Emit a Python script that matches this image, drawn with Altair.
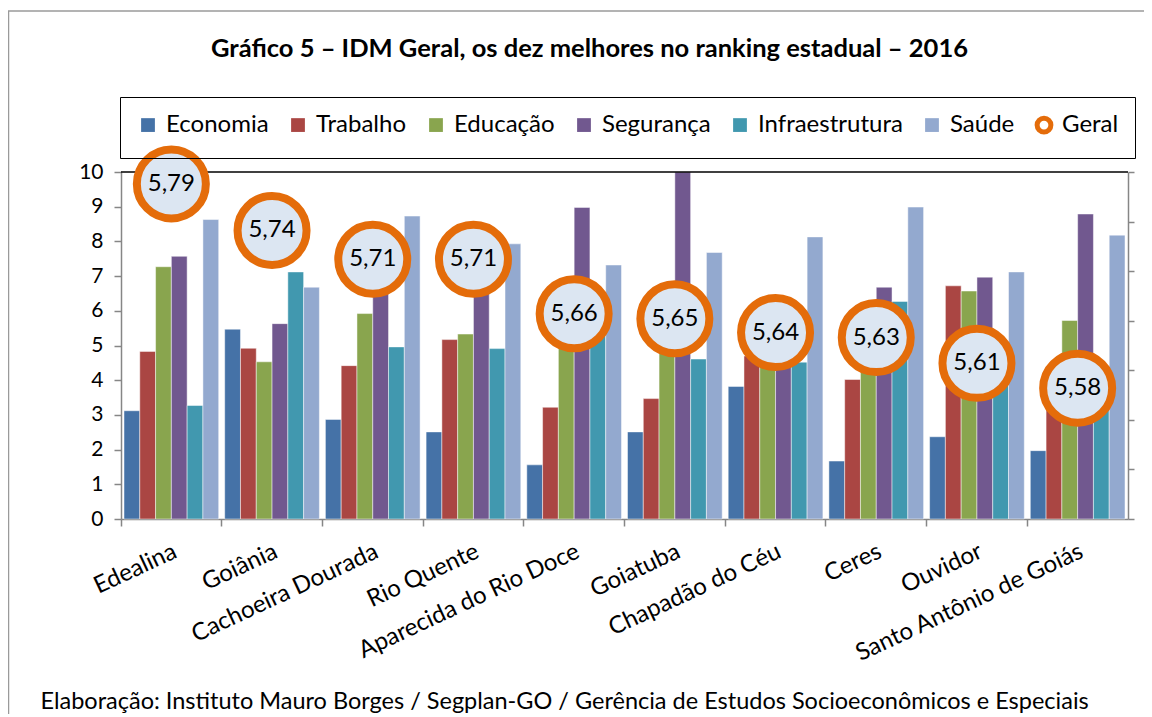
import altair as alt
import pandas as pd

cities = ["Edealina", "Goiânia", "Cachoeira Dourada", "Rio Quente", "Aparecida do Rio Doce",
          "Goiatuba", "Chapadão do Céu", "Ceres", "Ouvidor", "Santo Antônio de Goiás"]
series = ["Economia", "Trabalho", "Educação", "Segurança", "Infraestrutura", "Saúde"]

economia = [3.12, 5.47, 2.87, 2.51, 1.56, 2.51, 3.82, 1.67, 2.37, 1.97]
trabalho = [4.83, 4.92, 4.42, 5.17, 3.22, 3.47, 4.70, 4.02, 6.72, 3.55]
educacao = [7.27, 4.53, 5.92, 5.33, 5.00, 5.10, 4.90, 4.60, 6.57, 5.72]
seguranca = [7.57, 5.63, 7.30, 6.90, 8.98, 10.00, 4.60, 6.68, 6.97, 8.79]
infraestrutura = [3.27, 7.12, 4.96, 4.91, 5.40, 4.61, 4.52, 6.27, 4.30, 3.40]
saude = [8.63, 6.68, 8.73, 7.93, 7.32, 7.68, 8.13, 8.99, 7.12, 8.18]
geral = [5.788, 5.741, 5.712, 5.712, 5.657, 5.652, 5.638, 5.633, 5.607, 5.582]

colors = ["#4572A7", "#AA4643", "#89A54E", "#71588F", "#4198AF", "#93A9CF"]
orange = "#E46C0A"
ring_fill = "#DCE6F2"
axis_gray = "#868686"
FONT = "Lato"

rows = []
for s, vals in zip(series, [economia, trabalho, educacao, seguranca, infraestrutura, saude]):
    for c, v in zip(cities, vals):
        rows.append({"cidade": c, "serie": s, "valor": v})
bars_df = pd.DataFrame(rows)
geral_df = pd.DataFrame({
    "cidade": cities,
    "geral": geral,
    "serie": ["Geral"] * len(cities),
    "rotulo": [f"{v:.2f}".replace(".", ",") for v in geral],
})
one = pd.DataFrame({"a": [0]})

legend_domain = series + ["Geral"]
legend = alt.Legend(
    title=None, orient="none", legendX=-1, legendY=-75, direction="horizontal",
    columns=7, labelFont=FONT, labelFontSize=24, labelColor="black", symbolSize=190,
    symbolStrokeWidth=5, columnPadding=12, padding=16, strokeColor="black",
    labelLimit=300, labelOffset=6,
)

x_scale = alt.Scale(domain=cities, paddingInner=0, paddingOuter=0)
x_axis = alt.Axis(
    title="Elaboração: Instituto Mauro Borges / Segplan-GO / Gerência de Estudos Socioeconômicos e Especiais",
    bandPosition=0, labelOffset=4, labelAngle=335, labelAlign="right", labelBaseline="middle",
    labelPadding=24, labelFont=FONT, labelFontSize=24, labelColor="black", labelLimit=400,
    domainColor=axis_gray, tickColor=axis_gray, domainWidth=1.5, tickWidth=1.5, tickSize=7,
    titleFont=FONT, titleFontSize=23.5, titleFontWeight="normal", titleColor="black",
    titleAnchor="start", titleAlign="left", titleX=-81, titleY=189, titleBaseline="alphabetic",
    grid=False, labelOverlap=False,
)
y_axis = alt.Axis(title=None, values=list(range(0, 11)), grid=False, labelFont=FONT,
                  labelFontSize=21, labelColor="black", labelPadding=11,
                  domainColor=axis_gray, tickColor=axis_gray, domainWidth=1.5,
                  tickWidth=1.5, tickSize=7, labelOverlap=False)
y_scale = alt.Scale(domain=[0, 10], nice=False)

frame = alt.Chart(one).mark_rect(fill="transparent", stroke="#9a9a9a", strokeWidth=1.5).encode(
    x=alt.value(-112.5), x2=alt.value(1300), y=alt.value(-161), y2=alt.value(900)
)

bars = alt.Chart(bars_df).mark_bar(stroke="white", strokeWidth=0.8, strokeOpacity=0.6).encode(
    x=alt.X("cidade:N", scale=x_scale, axis=x_axis, sort=cities),
    xOffset=alt.XOffset("serie:N", sort=series,
                        scale=alt.Scale(domain=series, paddingInner=0, paddingOuter=0.19)),
    y=alt.Y("valor:Q", scale=y_scale, axis=y_axis),
    color=alt.Color("serie:N", scale=alt.Scale(domain=legend_domain, range=colors + ["white"]),
                    legend=legend),
)

top_line = alt.Chart(one).mark_rule(color="black", strokeWidth=1.5).encode(
    y=alt.YDatum(10, scale=y_scale, axis=y_axis)
)

g_scale = alt.Scale(domain=[5.45, 5.80], nice=False, zero=False)
g_axis = alt.Axis(orient="right", title=None, labels=False, grid=False,
                  values=[5.45, 5.50, 5.55, 5.60, 5.65, 5.70, 5.75, 5.80],
                  domainColor=axis_gray, tickColor=axis_gray, domainWidth=1.5,
                  tickWidth=1.5, tickSize=6)

points = alt.Chart(geral_df).mark_point(
    filled=True, fill=ring_fill, size=4761, strokeWidth=8, opacity=1
).encode(
    x=alt.X("cidade:N", scale=x_scale, sort=cities, axis=x_axis),
    y=alt.Y("geral:Q", scale=g_scale, axis=g_axis),
    stroke=alt.Stroke("serie:N", scale=alt.Scale(domain=legend_domain,
                                                 range=["transparent"] * 6 + [orange]),
                      legend=legend),
    shape=alt.Shape("serie:N", scale=alt.Scale(domain=legend_domain,
                                               range=["square"] * 6 + ["circle"]),
                    legend=legend),
)

labels = alt.Chart(geral_df).mark_text(font=FONT, fontSize=24, color="black").encode(
    x=alt.X("cidade:N", scale=x_scale, sort=cities, axis=x_axis),
    y=alt.Y("geral:Q", scale=g_scale, axis=g_axis),
    text="rotulo:N",
)

base = alt.layer(frame, bars, top_line)
circ = alt.layer(points, labels)

chart = alt.layer(base, circ).resolve_scale(y="independent").properties(
    width=1007, height=347,
    padding={"left": 113, "top": 164, "right": 16, "bottom": 195},
    autosize=alt.AutoSizeParams(type="none"),
    title=alt.TitleParams(
        "Gráfico 5 – IDM Geral, os dez melhores no ranking estadual – 2016",
        font=FONT, fontSize=25.5, fontWeight="bold", color="black", anchor="middle",
        dx=-35, offset=0, dy=52,
    ),
).configure_view(stroke=None)

chart.save("out.html", embed_options={"renderer": "svg", "actions": False})
